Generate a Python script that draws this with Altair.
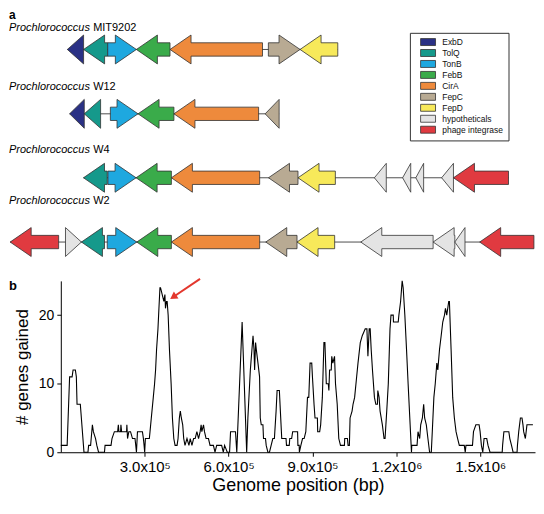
import altair as alt
import pandas as pd

FONT = "Liberation Sans"

# ---------------- panel a : gene neighbourhoods (schematic positions) ----------------
gene_types = ["ExbD", "TolQ", "TonB", "FebB", "CirA", "FepC", "FepD",
              "hypotheticals", "phage integrase"]
gene_colors = ["#2a3185", "#15998b", "#1ea8df", "#3aab4a", "#ee8a3c",
               "#b8aa93", "#f7e95a", "#e4e4e4", "#e03a40"]

strain_ids = ["MIT9202", "W12", "W4", "W2"]

mit9202_gene = ["ExbD", "TolQ", "TonB", "FebB", "CirA", "FepC", "FepD"]
mit9202_start = [62.7, 79.3, 104.0, 133.3, 167.7, 268.3, 300.7]
mit9202_end = [79.3, 104.0, 133.3, 167.7, 262.3, 300.7, 339.3]
mit9202_strand = [-1, -1, 1, -1, -1, 1, -1]

w12_gene = ["ExbD", "TolQ", "TonB", "FebB", "CirA", "FepC"]
w12_start = [65.0, 80.0, 106.7, 135.0, 171.7, 265.0]
w12_end = [80.0, 96.7, 135.0, 171.7, 258.3, 279.3]
w12_strand = [-1, -1, 1, -1, -1, -1]

w4_gene = ["TolQ", "TonB", "FebB", "CirA", "FepC", "FepD", "hypotheticals",
           "hypotheticals", "hypotheticals", "hypotheticals", "phage integrase"]
w4_start = [79.2, 104.2, 133.0, 169.1, 268.4, 298.6, 376.7, 405.6, 419.1, 445.5, 457.6]
w4_end = [103.5, 133.0, 169.1, 259.4, 298.6, 336.8, 388.9, 413.9, 427.1, 457.6, 513.9]
w4_strand = [-1, 1, -1, -1, -1, -1, -1, -1, -1, -1, -1]

w2_gene = ["phage integrase", "hypotheticals", "TolQ", "TonB", "FebB", "CirA", "FepC",
           "FepD", "hypotheticals", "hypotheticals", "hypotheticals", "phage integrase"]
w2_start = [4.2, 60.8, 77.1, 103.5, 133.7, 169.1, 265.6, 297.6, 362.8, 436.8, 459.0, 484.4]
w2_end = [53.8, 77.1, 100.7, 133.7, 169.1, 259.4, 297.6, 336.1, 436.8, 459.0, 469.4, 539.9]
w2_strand = [-1, 1, -1, 1, -1, -1, -1, -1, -1, -1, -1, -1]

# layout of panel a (vertical positions of the rows and their labels)
ROW_Y = [47.7, 112.3, 176.5, 241.0]
LABEL_Y = [26.0, 85.0, 148.5, 200.0]
HEAD_LEN, HEAD_HALF, BODY_HALF = 21.5, 14.5, 6.7

# ---------------- panel b : genes gained along the genome ----------------
pos_kb = [0, 22.7, 31.5, 40.4, 43.9, 52.1, 55.6, 58.1, 69.8, 82.9, 97.1, 99.5, 106.6, 108.7,
          113.0, 116.5, 124.3, 128.9, 135.0, 156.2, 158.3, 179.6, 183.1, 191.6, 203.3, 205.8,
          207.9, 213.9, 215.0, 217.5, 235.2, 236.3, 238.7, 243.3, 249.4, 256.4, 265.3, 268.1,
          270.6, 274.2, 291.9, 295.4, 297.9, 300.0, 302.5, 316.7, 319.1, 323.7, 330.8, 335.4,
          339.0, 342.5, 347.5, 351.0, 354.6, 356.7, 362.7, 368.7, 372.3, 374.4, 377.9, 380.4,
          384.0, 388.6, 394.6, 399.2, 404.1, 408.7, 415.8, 419.4, 424.0, 427.5, 431.1, 436.0,
          439.6, 444.2, 451.3, 458.3, 462.9, 469.0, 475.0, 480.6, 486.7, 492.7, 498.4, 501.9,
          504.4, 510.4, 513.9, 519.6, 528.1, 533.8, 545.8, 551.5, 557.5, 575.2, 581.2, 585.8,
          595.4, 603.6, 607.1, 624.8, 629.4, 648.5, 664.8, 669.1, 677.9, 687.5, 691.0, 693.2,
          696.7, 699.2, 705.2, 710.9, 713.4, 716.9, 722.9, 725.0, 732.1, 734.6, 740.6, 746.3,
          752.3, 758.3, 764.0, 770.0, 773.6, 781.7, 785.3, 790.2, 805.5, 807.2, 817.1, 818.9,
          825.6, 829.2, 846.9, 848.0, 852.6, 853.3, 858.6, 864.6, 870.3, 876.3, 882.3, 886.9,
          891.5, 897.5, 900.0, 905.7, 909.2, 917.7, 918.8, 925.9, 929.4, 935.4, 941.1, 944.6,
          949.6, 956.7, 958.8, 961.3, 967.3, 969.1, 973.0, 979.0, 982.5, 988.6, 994.2, 1000.3,
          1014.4, 1015.5, 1025.1, 1027.5, 1032.1, 1034.6, 1041.7, 1045.2, 1050.9, 1056.9,
          1062.9, 1071.1, 1078.2, 1088.8, 1094.8, 1098.4, 1103.0, 1106.5, 1110.1, 1114.7,
          1121.7, 1126.7, 1132.4, 1133.8, 1138.4, 1141.9, 1150.1, 1156.1, 1159.7, 1165.7,
          1171.3, 1177.4, 1180.9, 1189.0, 1189.8, 1206.8, 1209.2, 1215.3, 1220.9, 1224.5,
          1230.5, 1236.5, 1242.2, 1248.2, 1254.2, 1255.3, 1274.1, 1277.6, 1283.6, 1287.2,
          1293.2, 1297.8, 1301.3, 1307.3, 1313.0, 1319.0, 1325.1, 1328.6, 1334.3, 1339.2,
          1344.9, 1348.4, 1354.5, 1360.4, 1366.1, 1372.2, 1375.7, 1380.3, 1383.9, 1387.4,
          1389.9, 1392.4, 1395.9, 1401.6, 1407.6, 1413.6, 1419.3, 1425.3, 1443.0, 1446.5,
          1449.0, 1472.4, 1476.0, 1484.5, 1496.1, 1499.7, 1504.3, 1509.2, 1513.9, 1523.4,
          1528.0, 1535.1, 1578.7, 1580.1, 1584.7, 1602.4, 1605.9, 1612.0, 1617.6, 1631.8,
          1633.2, 1637.8, 1643.8, 1649.5, 1653.0, 1655.5, 1661.5, 1667.2, 1688.5]
genes_gained = [1, 1, 11, 11, 12, 12, 11, 7, 7, 0, 0, 1, 1, 2,
                4, 3, 2, 1, 0, 0, 1, 1, 2, 3, 3, 4,
                3, 3, 4, 3, 3, 4, 2, 3, 3, 2, 2, 1,
                0, 3, 3, 2, 1, 0, 2, 2, 3, 5, 8, 10,
                12, 15, 18, 21, 24, 24, 23, 22, 23, 21, 22, 22,
                20, 15, 10, 5, 2, 1, 1, 2, 5, 6, 5, 4,
                2, 1, 2, 1, 2, 1, 2, 2, 3, 2, 3, 4,
                3, 4, 3, 2, 2, 1, 1, 0, 1, 1, 0, 1,
                0, 0, 3, 3, 0, 19, 0, 5, 12, 17, 15, 12,
                16, 15, 13, 11, 5, 4, 4, 2, 2, 1, 0, 0,
                1, 2, 2, 6, 9, 9, 6, 2, 2, 1, 1, 2,
                2, 3, 3, 1, 1, 0, 1, 2, 2, 3, 8, 8,
                13, 13, 11, 7, 5, 5, 3, 3, 4, 8, 16, 16,
                10, 10, 9, 12, 12, 14, 13, 14, 10, 7, 2, 1,
                1, 2, 2, 1, 1, 5, 6, 7, 8, 10.5,
                13, 16, 17, 18, 18, 14, 18, 18, 15, 12,
                8, 7, 7, 9, 8, 6, 4, 2, 2, 6,
                10, 18, 20, 20, 19, 19, 20, 22, 25, 24,
                20, 15, 10, 5, 0, 1, 1, 3, 2, 4,
                5, 7, 5, 4, 2, 0, 0, 3, 8, 10,
                13, 12, 15, 17, 19, 20, 21, 20, 21, 22,
                22, 19, 15, 8, 5, 3, 2, 1, 1, 0,
                1, 1, 3, 4, 4, 3, 1, 0, 2, 2,
                1, 0, 0, 1, 3, 3, 2, 1, 0, 0,
                1, 3, 5, 5, 4, 3, 2, 4, 4]

tick_kb = [300, 600, 900, 1200, 1500]
tick_text = ["3.0x10⁵", "6.0x10⁵", "9.0x10⁵", "1.2x10⁶", "1.5x10⁶"]

# highlighted region arrow (tail -> head), data coordinates
arrow_kb = [498.0, 402.0]
arrow_val = [25.3, 22.65]

# ======================= build panel a =======================
strain_tables = [
    (mit9202_gene, mit9202_start, mit9202_end, mit9202_strand),
    (w12_gene, w12_start, w12_end, w12_strand),
    (w4_gene, w4_start, w4_end, w4_strand),
    (w2_gene, w2_start, w2_end, w2_strand),
]

pts = []
backbone = []
gid = 0
for r, (genes, starts, ends, strands) in enumerate(strain_tables):
    c = ROW_Y[r]
    backbone.append({"x": min(starts), "x2": max(ends), "y": c})
    for g, s, e, d in zip(genes, starts, ends, strands):
        L = min(HEAD_LEN, e - s)
        has_body = (e - s) > L + 0.01
        if d < 0:
            shape = [(s, 0.0), (s + L, HEAD_HALF)]
            if has_body:
                shape += [(s + L, BODY_HALF), (e, BODY_HALF)]
        else:
            shape = []
            if has_body:
                shape += [(s, BODY_HALF), (e - L, BODY_HALF)]
            shape += [(e - L, HEAD_HALF), (e, 0.0)]
        for (x, h) in shape:
            pts.append({"gid": gid, "gene": g, "x": x, "y": c - h, "y2": c + h})
        gid += 1

pts_df = pd.DataFrame(pts)
bb_df = pd.DataFrame(backbone)
lab_df = pd.DataFrame({"strain": strain_ids, "ly": LABEL_Y})

PLOT_LEFT = 60.0          # page x of the (shared) plot origin
A_W, A_H = 476, 268
xa = alt.Scale(domain=[56.0, 541.0], nice=False, zero=False)
ya = alt.Scale(domain=[8, 8 + A_H], nice=False, zero=False, reverse=True)
LEFT_EDGE = 8 - PLOT_LEFT

bb_layer = alt.Chart(bb_df).mark_rule(color="#3a3a3a", strokeWidth=0.9).encode(
    x=alt.X("x:Q", scale=xa, axis=None), x2="x2:Q",
    y=alt.Y("y:Q", scale=ya, axis=None))

arrows = alt.Chart(pts_df).mark_area(
    stroke="#333333", strokeWidth=0.8, opacity=1, interpolate="linear").encode(
    x=alt.X("x:Q", scale=xa, axis=None),
    y=alt.Y("y:Q", scale=ya, axis=None, stack=None),
    y2="y2:Q",
    color=alt.Color("gene:N", scale=alt.Scale(domain=gene_types, range=gene_colors),
                    legend=alt.Legend(
                        title=None, orient="none", legendX=350.4, legendY=23,
                        symbolType="M-2.14,-1H2.14V1H-2.14Z", symbolSize=49,
                        symbolStrokeColor="#333333", symbolStrokeWidth=0.8,
                        symbolOpacity=1, symbolOffset=9,
                        labelFont=FONT, labelFontSize=8.5, labelColor="#111111",
                        labelOffset=10, labelLimit=0, rowPadding=0,
                        padding=5, strokeColor="#333333", fillColor="white")),
    detail="gid:N")

lab_it = alt.Chart(lab_df).mark_text(
    text="Prochlorococcus", font=FONT, fontStyle="italic", fontSize=11,
    align="left", baseline="middle", color="black").encode(
    x=alt.value(LEFT_EDGE), y=alt.Y("ly:Q", scale=ya, axis=None))
lab_id = alt.Chart(lab_df).mark_text(
    font=FONT, fontSize=11, align="left", baseline="middle", dx=84.5,
    color="black").encode(
    x=alt.value(LEFT_EDGE), y=alt.Y("ly:Q", scale=ya, axis=None), text="strain:N")
a_lab = alt.Chart(pd.DataFrame({"t": ["a"]})).mark_text(
    font=FONT, fontSize=12, fontWeight="bold", align="left", baseline="top",
    color="black").encode(x=alt.value(LEFT_EDGE), y=alt.value(0), text="t:N")

panel_a = alt.layer(bb_layer, arrows, lab_it, lab_id, a_lab).properties(
    width=A_W, height=A_H)

# ======================= build panel b =======================
b_df = pd.DataFrame({"pos": pos_kb, "n": genes_gained, "i": range(len(pos_kb))})
xb = alt.Scale(domain=[0, 1696], nice=False, zero=False)
yb = alt.Scale(domain=[0, 25], nice=False)

label_expr = " : ".join(f"datum.value == {v} ? '{t}'" for v, t in zip(tick_kb, tick_text)) + " : ''"

line = alt.Chart(b_df).mark_line(color="black", strokeWidth=1.1).encode(
    x=alt.X("pos:Q", scale=xb, axis=alt.Axis(
        values=tick_kb, labelExpr=label_expr, title="Genome position (bp)",
        labelFontSize=15, titleFontSize=18, titleFontWeight="normal",
        tickSize=4, labelPadding=3, titlePadding=2, labelFlush=False)),
    y=alt.Y("n:Q", scale=yb, axis=alt.Axis(
        values=[0, 5, 10, 15, 20, 25], title="# genes gained",
        labelFontSize=14, titleFontSize=17, titleFontWeight="normal",
        tickSize=4, labelPadding=3, titlePadding=7)),
    order="i:Q")

arr_df = pd.DataFrame({"x": [arrow_kb[0]], "x2": [arrow_kb[1]],
                       "y": [arrow_val[0]], "y2": [arrow_val[1]]})
arr_line = alt.Chart(arr_df).mark_rule(color="#e3372d", strokeWidth=2).encode(
    x=alt.X("x:Q", scale=xb), x2="x2:Q", y=alt.Y("y:Q", scale=yb), y2="y2:Q")
arr_head = alt.Chart(arr_df).mark_point(
    shape="triangle-up", angle=236, filled=True, size=70, color="#e3372d",
    opacity=1).encode(x=alt.X("x2:Q", scale=xb), y=alt.Y("y2:Q", scale=yb))
b_lab = alt.Chart(pd.DataFrame({"t": ["b"]})).mark_text(
    font=FONT, fontSize=13, fontWeight="bold", align="left", baseline="middle",
    color="black").encode(x=alt.value(LEFT_EDGE), y=alt.value(5), text="t:N")

panel_b = alt.layer(line, arr_line, arr_head, b_lab).properties(width=476, height=172)

chart = alt.vconcat(panel_a, panel_b, spacing=0).properties(
    padding=0, background="white").configure_view(stroke=None).configure_axis(
    labelFont=FONT, titleFont=FONT, labelColor="black", titleColor="black",
    domainColor="black", tickColor="black", grid=False, domainWidth=1)

chart.save("out.html", embed_options={"renderer": "svg", "actions": False})
